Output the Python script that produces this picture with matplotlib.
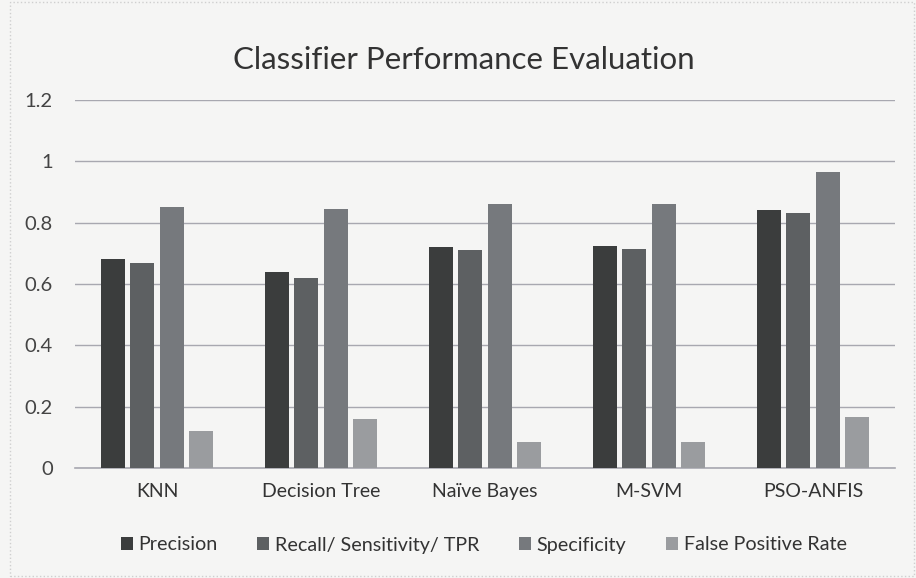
import matplotlib
matplotlib.use("Agg")
import matplotlib.pyplot as plt
import numpy as np
from matplotlib.patches import Rectangle

categories = ["KNN", "Decision Tree", "Naïve Bayes", "M-SVM", "PSO-ANFIS"]
series_names = ["Precision", "Recall/ Sensitivity/ TPR", "Specificity", "False Positive Rate"]
precision = [0.68, 0.64, 0.72, 0.725, 0.84]
recall = [0.67, 0.62, 0.71, 0.715, 0.83]
specificity = [0.85, 0.845, 0.862, 0.862, 0.965]
fpr = [0.12, 0.16, 0.085, 0.085, 0.165]
yticks = [0, 0.2, 0.4, 0.6, 0.8, 1.0, 1.2]
ytick_labels = ["0", "0.2", "0.4", "0.6", "0.8", "1", "1.2"]

colors = ["#3b3d3d", "#5d6062", "#76797d", "#9a9c9f"]
bg = "#f5f5f4"

plt.rcParams['font.family'] = ['Lato', 'DejaVu Sans']

fig = plt.figure(figsize=(9.16, 5.78), dpi=100, facecolor=bg)
ax = fig.add_axes([75/916, 1-468/578, 820/916, 368/578], facecolor=bg)

x = np.arange(len(categories))
pitch = 0.18
width = 0.145
for i, (vals, name) in enumerate(zip([precision, recall, specificity, fpr], series_names)):
    ax.bar(x + (i - 1.5) * pitch, vals, width, color=colors[i], label=name, zorder=3)

ax.set_xlim(-0.5, len(categories) - 0.5)
ax.set_ylim(0, 1.2)
ax.set_yticks(yticks)
ax.set_yticklabels(ytick_labels, fontsize=14.5, color="#444444")
ax.set_xticks(x)
ax.set_xticklabels(categories, fontsize=14, color="#333333")
ax.tick_params(axis='both', length=0)
ax.tick_params(axis='y', pad=16)
ax.tick_params(axis='x', pad=11)
ax.grid(axis='y', color="#a8a8b0", linewidth=1.0, zorder=0)
for s in ["top", "right", "left"]:
    ax.spines[s].set_visible(False)
ax.spines["bottom"].set_color("#a8a8b0")
ax.spines["bottom"].set_linewidth(1.2)

fig.text(0.506, 1-60/578, "Classifier Performance Evaluation", ha="center", va="center",
         fontsize=22.5, color="#333333")

leg = fig.legend(loc="center", bbox_to_anchor=(0.528, 1-545/578), ncol=4, frameon=False,
                 fontsize=14.2, handlelength=0.6, handleheight=0.6, handletextpad=0.3,
                 columnspacing=2.0)
for t in leg.get_texts():
    t.set_color("#333333")

fig.patches.append(Rectangle((10/916, 2/578), 1-12/916, 1-4/578, transform=fig.transFigure,
                             fill=False, edgecolor="#cfcfcf", linewidth=1, linestyle=":"))

fig.savefig("out.png", dpi=100, facecolor=bg)
